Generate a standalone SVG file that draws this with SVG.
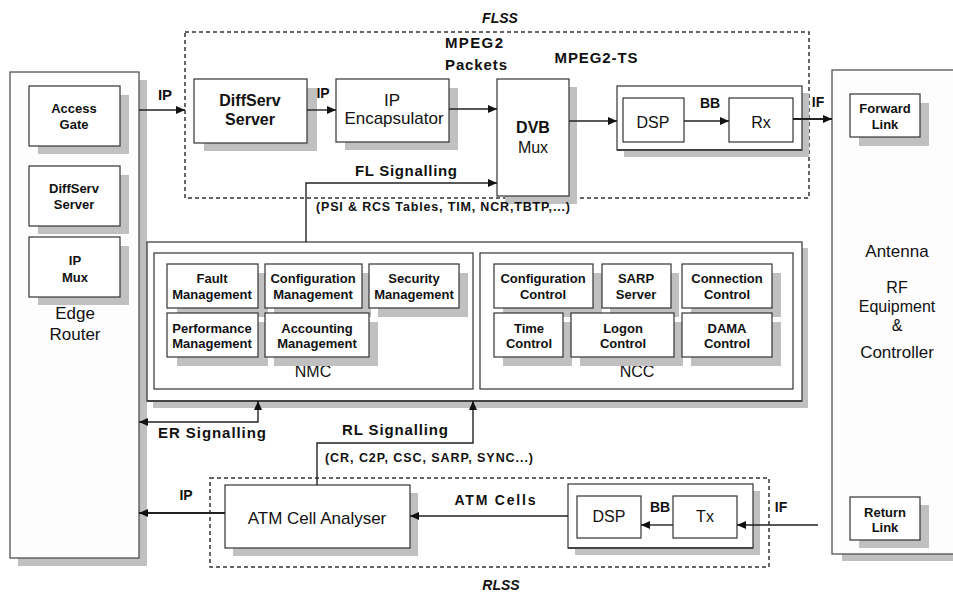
<svg xmlns="http://www.w3.org/2000/svg" width="953" height="593" viewBox="0 0 953 593">
<defs>
<style>
text{font-family:"Liberation Sans",Arial,sans-serif;fill:#111;text-anchor:middle}
.b{font-weight:bold}
.bi{font-weight:bold;font-style:italic}
.box{fill:#fff;stroke:#333;stroke-width:1.2}
.big{fill:#fdfdfd;stroke:#444;stroke-width:1.2}
.sh{fill:#c0c0c0}
.dash{fill:none;stroke:#333;stroke-width:1.5;stroke-dasharray:4 3}
.ln{fill:none;stroke:#222;stroke-width:1.4}
.thick{fill:none;stroke:#222;stroke-width:2}
.s13{font-size:13px}
.s14{font-size:14px}
.s15{font-size:15px}
.s16{font-size:16px}
.s17{font-size:17px}
</style>
<marker id="ah" markerUnits="userSpaceOnUse" markerWidth="9" markerHeight="8" refX="9" refY="4" orient="auto-start-reverse">
<path d="M0,0 L9,4 L0,8 z" fill="#111"/>
</marker>
</defs>

<!-- subsystem frames -->
<g id="flss">
<rect class="dash" x="185" y="32" width="624" height="166"/>
<text class="bi s14" x="500" y="23">FLSS</text>
</g>
<g id="rlss">
<rect class="dash" x="210" y="478" width="559" height="89"/>
<text class="bi s14" x="501" y="590">RLSS</text>
</g>

<!-- Edge Router -->
<g id="edge-router">
<rect class="sh" x="18" y="80" width="129" height="486"/>
<rect class="big" x="10" y="72" width="129" height="486"/>
<text class="s17" x="75" y="319">Edge</text>
<text class="s17" x="75" y="340">Router</text>
</g>
<g id="access-gate">
<rect class="sh" x="38" y="95" width="91" height="59"/>
<rect class="box" x="29" y="86" width="91" height="60"/>
<text class="b s13" x="74" y="113">Access</text>
<text class="b s13" x="74" y="129">Gate</text>
</g>
<g id="diffserv-left">
<rect class="sh" x="38" y="175" width="91" height="59"/>
<rect class="box" x="29" y="166" width="91" height="60"/>
<text class="b s13" x="74" y="193">DiffServ</text>
<text class="b s13" x="74" y="209">Server</text>
</g>
<g id="ip-mux">
<rect class="sh" x="38" y="246" width="91" height="59"/>
<rect class="box" x="29" y="237" width="91" height="60"/>
<text class="b s13" x="75" y="265">IP</text>
<text class="b s13" x="75" y="282">Mux</text>
</g>

<!-- FLSS nodes -->
<g id="diffserv-server">
<rect class="sh" x="204" y="88" width="113" height="63"/>
<rect class="box" x="194" y="79" width="113" height="64"/>
<text class="b s16" x="250" y="106">DiffServ</text>
<text class="b s16" x="250" y="125">Server</text>
</g>
<g id="ip-encapsulator">
<rect class="sh" x="345" y="88" width="113" height="62"/>
<rect class="box" x="336" y="79" width="113" height="63"/>
<text class="s17" x="392" y="106">IP</text>
<text class="s17" x="394" y="124">Encapsulator</text>
</g>
<g id="dvb-mux">
<rect class="sh" x="505" y="87" width="72" height="117"/>
<rect class="box" x="497" y="79" width="72" height="117"/>
<text class="b s16" x="533" y="133">DVB</text>
<text class="s16" x="533" y="153">Mux</text>
</g>
<g id="fl-modem">
<rect class="sh" x="624" y="93" width="185" height="64"/>
<rect class="box" x="617" y="86" width="185" height="64"/>
<line x1="617" y1="150" x2="802" y2="150" stroke="#444" stroke-width="2"/>
<rect class="box" x="623" y="98" width="61" height="44"/>
<text class="s16" x="653" y="128">DSP</text>
<rect class="box" x="729" y="98" width="64" height="44"/>
<text class="s16" x="761" y="128">Rx</text>
</g>

<!-- Antenna -->
<g id="antenna">
<rect class="sh" x="842" y="80" width="120" height="481"/>
<rect class="big" x="832" y="70" width="130" height="484"/>
<text class="s17" x="897" y="257">Antenna</text>
<text class="s16" x="897" y="293">RF</text>
<text class="s16" x="897" y="312">Equipment</text>
<text class="s16" x="897" y="331">&amp;</text>
<text class="s17" x="897" y="358">Controller</text>
</g>
<g id="forward-link">
<rect class="sh" x="859" y="103" width="70" height="43"/>
<rect class="box" x="850" y="94" width="70" height="43"/>
<text class="b s13" x="885" y="113">Forward</text>
<text class="b s13" x="885" y="129">Link</text>
</g>
<g id="return-link">
<rect class="sh" x="859" y="505" width="70" height="43"/>
<rect class="box" x="850" y="497" width="70" height="43"/>
<text class="b s13" x="885" y="517">Return</text>
<text class="b s13" x="885" y="532">Link</text>
</g>

<!-- NMC / NCC -->
<g id="nms-ncc">
<rect class="sh" x="153" y="248" width="655" height="160"/>
<rect class="box" x="147" y="242" width="655" height="159"/>
<line x1="147" y1="401" x2="802" y2="401" stroke="#444" stroke-width="2.2"/>
</g>
<g id="nmc">
<rect class="box" x="154" y="253" width="319" height="136"/>
<text class="s16" x="313" y="377">NMC</text>
</g>
<g id="fault-management">
<rect class="sh" x="177" y="273" width="91" height="44"/>
<rect class="box" x="167" y="264" width="91" height="44"/>
<text class="b s13" x="212" y="283">Fault</text>
<text class="b s13" x="212" y="299">Management</text>
</g>
<g id="configuration-management">
<rect class="sh" x="274" y="273" width="97" height="44"/>
<rect class="box" x="265" y="264" width="97" height="44"/>
<text class="b s13" x="313" y="283">Configuration</text>
<text class="b s13" x="313" y="299">Management</text>
</g>
<g id="security-management">
<rect class="sh" x="378" y="273" width="90" height="44"/>
<rect class="box" x="369" y="264" width="90" height="44"/>
<text class="b s13" x="414" y="283">Security</text>
<text class="b s13" x="414" y="299">Management</text>
</g>
<g id="performance-management">
<rect class="sh" x="177" y="322" width="91" height="44"/>
<rect class="box" x="167" y="313" width="91" height="44"/>
<text class="b s13" x="212" y="333">Performance</text>
<text class="b s13" x="212" y="348">Management</text>
</g>
<g id="accounting-management">
<rect class="sh" x="274" y="322" width="104" height="44"/>
<rect class="box" x="265" y="313" width="104" height="44"/>
<text class="b s13" x="317" y="333">Accounting</text>
<text class="b s13" x="317" y="348">Management</text>
</g>

<g id="ncc">
<rect class="box" x="480" y="253" width="313" height="136"/>
<text class="s16" x="637" y="377">NCC</text>
</g>
<g id="configuration-control">
<rect class="sh" x="503" y="273" width="99" height="44"/>
<rect class="box" x="494" y="264" width="99" height="44"/>
<text class="b s13" x="543" y="283">Configuration</text>
<text class="b s13" x="543" y="299">Control</text>
</g>
<g id="sarp-server">
<rect class="sh" x="610" y="273" width="69" height="44"/>
<rect class="box" x="602" y="264" width="69" height="44"/>
<text class="b s13" x="636" y="283">SARP</text>
<text class="b s13" x="636" y="299">Server</text>
</g>
<g id="connection-control">
<rect class="sh" x="691" y="273" width="90" height="44"/>
<rect class="box" x="682" y="264" width="90" height="44"/>
<text class="b s13" x="727" y="283">Connection</text>
<text class="b s13" x="727" y="299">Control</text>
</g>
<g id="time-control">
<rect class="sh" x="503" y="322" width="69" height="44"/>
<rect class="box" x="494" y="313" width="69" height="44"/>
<text class="b s13" x="529" y="333">Time</text>
<text class="b s13" x="529" y="348">Control</text>
</g>
<g id="logon-control">
<rect class="sh" x="580" y="322" width="103" height="44"/>
<rect class="box" x="571" y="313" width="103" height="44"/>
<text class="b s13" x="623" y="333">Logon</text>
<text class="b s13" x="623" y="348">Control</text>
</g>
<g id="dama-control">
<rect class="sh" x="691" y="322" width="90" height="44"/>
<rect class="box" x="682" y="313" width="90" height="44"/>
<text class="b s13" x="727" y="333">DAMA</text>
<text class="b s13" x="727" y="348">Control</text>
</g>

<!-- RLSS nodes -->
<g id="atm-cell-analyser">
<rect class="sh" x="233" y="493" width="185" height="63"/>
<rect class="box" x="225" y="485" width="185" height="63"/>
<text class="s17" x="317" y="524">ATM Cell Analyser</text>
</g>
<g id="rl-modem">
<rect class="sh" x="575" y="491" width="185" height="64"/>
<rect class="box" x="568" y="484" width="185" height="64"/>
<line x1="568" y1="548" x2="753" y2="548" stroke="#444" stroke-width="2"/>
<rect class="box" x="577" y="496" width="64" height="42"/>
<text class="s16" x="609" y="522">DSP</text>
<rect class="box" x="673" y="496" width="64" height="42"/>
<text class="s16" x="705" y="522">Tx</text>
</g>

<!-- connectors -->
<g id="connectors">
<line class="ln" x1="139" y1="110" x2="185" y2="110" marker-end="url(#ah)"/>
<line class="ln" x1="307" y1="110" x2="336" y2="110" marker-end="url(#ah)"/>
<line class="ln" x1="449" y1="109" x2="497" y2="109" marker-end="url(#ah)"/>
<line class="ln" x1="569" y1="121" x2="617" y2="121" marker-end="url(#ah)"/>
<line class="ln" x1="684" y1="121" x2="729" y2="121" marker-end="url(#ah)"/>
<line class="thick" x1="793" y1="119" x2="832" y2="119" marker-end="url(#ah)"/>
<polyline class="ln" points="306,242 306,183 497,183" marker-end="url(#ah)"/>
<polyline class="ln" points="139,422 258,422 258,401" marker-start="url(#ah)" marker-end="url(#ah)"/>
<polyline class="ln" points="317,485 317,443 473,443 473,401" marker-end="url(#ah)"/>
<line class="thick" x1="225" y1="513" x2="139" y2="513" marker-end="url(#ah)"/>
<line class="ln" x1="568" y1="516" x2="410" y2="516" marker-end="url(#ah)"/>
<line class="ln" x1="673" y1="525" x2="641" y2="525" marker-end="url(#ah)"/>
<line class="ln" x1="818" y1="525" x2="737" y2="525" marker-end="url(#ah)"/>

<text class="b" font-size="15" x="165" y="100">IP</text>
<text class="b" font-size="14" x="323" y="98">IP</text>
<text class="b s15" x="474" y="48" textLength="58">MPEG2</text>
<text class="b s15" x="476" y="70" textLength="62">Packets</text>
<text class="b s15" x="596" y="63" textLength="83">MPEG2-TS</text>
<text class="b s14" x="710" y="108">BB</text>
<text class="b s14" x="818" y="107">IF</text>
<text class="b" font-size="15" x="406" y="176" textLength="102">FL Signalling</text>
<text class="b" font-size="12.5" x="443" y="211" textLength="254">(PSI &amp; RCS Tables, TIM, NCR,TBTP,...)</text>
<text class="b" font-size="15" x="212" y="438" textLength="108">ER Signalling</text>
<text class="b" font-size="15" x="395" y="435" textLength="106">RL Signalling</text>
<text class="b" font-size="12.5" x="429" y="462" textLength="208">(CR, C2P, CSC, SARP, SYNC...)</text>
<text class="b s14" x="186" y="500">IP</text>
<text class="b s14" x="495" y="505" textLength="81">ATM Cells</text>
<text class="b s14" x="660" y="512">BB</text>
<text class="b s14" x="781" y="512">IF</text>
</g>
</svg>
